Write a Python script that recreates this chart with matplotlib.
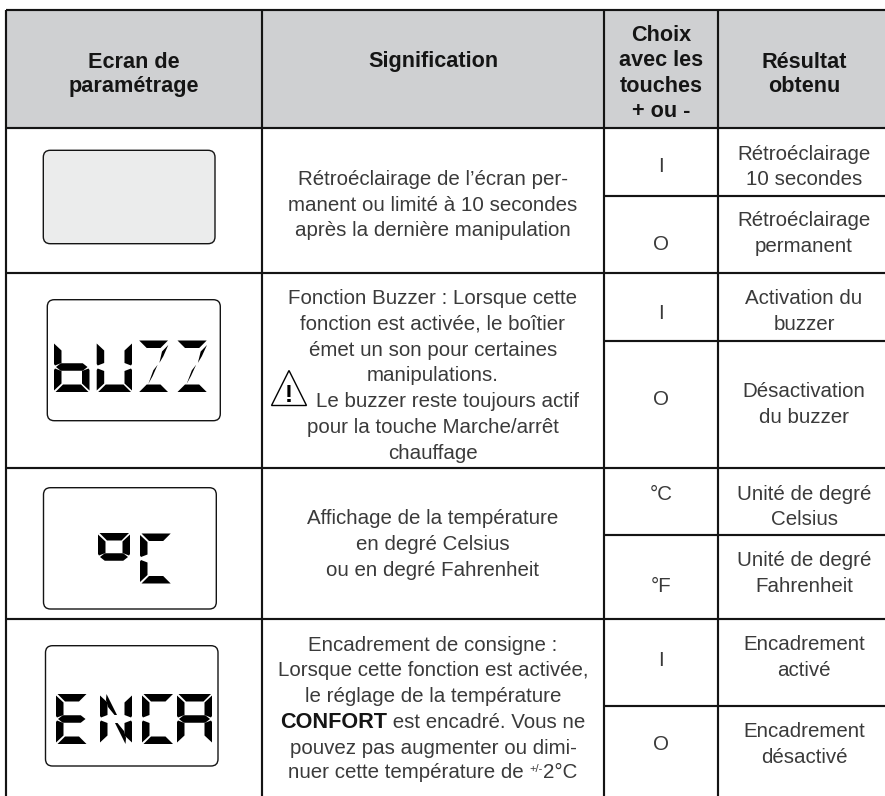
import matplotlib
matplotlib.use("Agg")
import matplotlib.pyplot as plt
from matplotlib.patches import Rectangle, FancyBboxPatch, Polygon

W, H = 885, 796
FONT = "Liberation Sans"
INK = "#3a3a3a"
LINE = "#141414"

# ---- table geometry -------------------------------------------------
col_edges = [6, 262, 604, 718]
row_edges = [9.5, 127.5, 272.5, 468, 619]
sub_rows = [195.5, 340.5, 535, 706]
header_fill = "#cfd0d2"

# ---- texts: (x, baseline, text) ------------------------------------
col2_x, col3_x, col4_x, col1_x = 433, 661, 804, 134

header_lines = [
    (col1_x, 67.5, "Ecran de"), (col1_x, 92, "paramétrage"),
    (col2_x, 67, "Signification"),
    (col3_x, 41, "Choix"), (col3_x, 66.5, "avec les"), (col3_x, 92, "touches"), (col3_x, 117, "+ ou -"),
    (col4_x, 67.5, "Résultat"), (col4_x, 92, "obtenu"),
]
meaning_lines = [
    (col2_x, 185, "Rétroéclairage de l’écran per-"),
    (col2_x, 211, "manent ou limité à 10 secondes"),
    (col2_x, 236.5, "après la dernière manipulation"),
    (col2_x, 304, "Fonction Buzzer : Lorsque cette"),
    (col2_x, 330, "fonction est activée, le boîtier"),
    (col2_x, 355.5, "émet un son pour certaines"),
    (col2_x, 381, "manipulations."),
    (448, 407, "Le buzzer reste toujours actif"),
    (col2_x, 433, "pour la touche Marche/arrêt"),
    (col2_x, 459, "chauffage"),
    (col2_x, 524.5, "Affichage de la température"),
    (col2_x, 550.5, "en degré Celsius"),
    (col2_x, 576.5, "ou en degré Fahrenheit"),
    (col2_x, 651, "Encadrement de consigne :"),
    (col2_x, 676.5, "Lorsque cette fonction est activée,"),
    (col2_x, 702, "le réglage de la température"),
    (col2_x, 753.5, "pouvez pas augmenter ou dimi-"),
]
choice_labels = [
    (col3_x, 172.5, "I"), (col3_x, 250, "O"),
    (col3_x, 319, "I"), (col3_x, 405, "O"),
    (col3_x, 499.5, "°C"), (col3_x, 592.5, "°F"),
    (col3_x, 665.5, "I"), (col3_x, 750, "O"),
]
result_lines = [
    (col4_x, 160.5, "Rétroéclairage"), (col4_x, 185, "10 secondes"),
    (col4_x, 226.5, "Rétroéclairage"), (col4_x, 251.5, "permanent"),
    (col4_x, 303.5, "Activation du"), (col4_x, 330, "buzzer"),
    (col4_x, 397, "Désactivation"), (col4_x, 423, "du buzzer"),
    (col4_x, 499.5, "Unité de degré"), (col4_x, 525, "Celsius"),
    (col4_x, 566.5, "Unité de degré"), (col4_x, 592.5, "Fahrenheit"),
    (col4_x, 650.5, "Encadrement"), (col4_x, 676.5, "activé"),
    (col4_x, 737, "Encadrement"), (col4_x, 763, "désactivé"),
]

# ---- LCD panels ------------------------------------------------------
panels = [
    (43.3, 150.3, 215, 243.7, "#ebecec"),
    (47.3, 299.7, 220.3, 420.7, "white"),
    (43.5, 487.7, 216.3, 609, "white"),
    (45.5, 645.7, 218, 766, "white"),
]
# glyph, x0, y0, x1, y1
lcd_glyphs = [
    ("b", 54, 342, 89.5, 392), ("U", 96.7, 342, 132, 392),
    ("Z", 137.7, 340.5, 169, 392), ("Z", 176, 340.5, 207.7, 392),
    ("o", 98, 533, 130, 581), ("C", 140, 533.5, 171.7, 583.5),
    ("E", 56, 694, 87.5, 744), ("N", 100, 694, 132, 744),
    ("C", 142, 694, 174, 744), ("A", 177, 694, 212, 744),
]
glyph_segments = {
    "b": "fegcd", "U": "fecbd", "Z": "adxy", "o": "abfg",
    "C": "afed", "E": "afegd", "N": "fecbhi", "A": "abcefg",
}


def segment(name, x0, y0, x1, y1, t=7.5):
    ym = (y0 + y1) / 2
    xc = (x0 + x1) / 2
    h = t / 2
    return {
        "a": [(x0 + 1.5, y0), (x1 - 1, y0), (x1 - 1 - t, y0 + t), (x0 + 1.5 + t, y0 + t)],
        "d": [(x0 + 1.5, y1), (x1 - 1, y1), (x1 - 1 - t, y1 - t), (x0 + 1.5 + t, y1 - t)],
        "f": [(x0, y0 + 1.5), (x0 + t, y0 + t + 1), (x0 + t, ym - 4), (x0 + 1, ym - 1.5), (x0, ym - 3)],
        "e": [(x0, y1 - 1.5), (x0 + t, y1 - t - 1), (x0 + t, ym + 4), (x0 + 1, ym + 1.5), (x0, ym + 3)],
        "b": [(x1, y0 + 1.5), (x1 - t, y0 + t + 1), (x1 - t, ym - 4), (x1 - 1, ym - 1.5), (x1, ym - 3)],
        "c": [(x1, y1 - 1.5), (x1 - t, y1 - t - 1), (x1 - t, ym + 4), (x1 - 1, ym + 1.5), (x1, ym + 3)],
        "g": [(x0 + 2, ym), (x0 + 3 + h, ym - h), (x1 - 3 - h, ym - h), (x1 - 2, ym),
              (x1 - 3 - h, ym + h), (x0 + 3 + h, ym + h)],
        "x": [(x1 - 0.7, y0 + 4.5), (x1 - 7, y0 + 11), (xc + 6, ym - 3.3), (xc + 10, ym - 10)],
        "y": [(xc + 4.3, ym - 1.5), (xc, ym + 4), (x0 + 10.6, y1 - 8), (x0 + 15, y1 - 16)],
        "h": [(x0 + 6.5, y0), (xc + 1, ym - 4), (xc - 1.5, ym - 4), (x0 + 8, y0 + 13), (x0 + 6, y0 + 6)],
        "i": [(x1 - 6.5, y1), (xc - 1, ym + 4), (xc + 1.5, ym + 4), (x1 - 8, y1 - 13), (x1 - 6, y1 - 6)],
    }[name]


fig = plt.figure(figsize=(W / 100, H / 100), dpi=100, facecolor="white")
ax = fig.add_axes([0, 0, 1, 1])
ax.set_xlim(0, W)
ax.set_ylim(H, 0)
ax.axis("off")
renderer = fig.canvas.get_renderer()

# header band
ax.add_patch(Rectangle((col_edges[0], row_edges[0]), W - col_edges[0], row_edges[1] - row_edges[0],
                       facecolor=header_fill, edgecolor="none", zorder=1))

LW = 1.55
for x in col_edges:
    ax.plot([x, x], [row_edges[0], H], color=LINE, lw=LW, solid_capstyle="butt", zorder=3)
for y in row_edges:
    ax.plot([col_edges[0], W], [y, y], color=LINE, lw=LW, solid_capstyle="butt", zorder=3)
for y in sub_rows:
    ax.plot([col_edges[2], W], [y, y], color=LINE, lw=LW, solid_capstyle="butt", zorder=3)

FS = 14.8
FS_BOLD = 15.6
for x, y, s in header_lines:
    ax.text(x, y, s, ha="center", va="baseline", family=FONT, weight="bold", fontsize=FS_BOLD, color="#151515", zorder=4)
for group in (meaning_lines, choice_labels, result_lines):
    for x, y, s in group:
        ax.text(x, y, s, ha="center", va="baseline", family=FONT, fontsize=FS, color=INK, zorder=4)


def runs(cx, y, parts):
    """Centre a line made of several styled runs on cx."""
    items = []
    total = 0
    for s, weight, size, dy in parts:
        t = ax.text(0, y + dy, s, ha="left", va="baseline", family=FONT, weight=weight,
                    fontsize=size, color=INK if weight == "normal" else "#151515", zorder=4)
        w = t.get_window_extent(renderer).width
        items.append((t, w))
        total += w
    x = cx - total / 2
    for t, w in items:
        t.set_x(x)
        x += w


runs(col2_x, 728, [("CONFORT", "bold", FS_BOLD, 0), (" est encadré. Vous ne", "normal", FS, 0)])
runs(col2_x, 778.5, [("nuer cette température de ", "normal", FS, 0), ("+/-", "normal", 8, -6),
                     ("2°C", "normal", FS, 0)])

# LCD panels
for x0, y0, x1, y1, fill in panels:
    ax.add_patch(FancyBboxPatch((x0, y0), x1 - x0, y1 - y0, boxstyle="round,pad=0,rounding_size=7",
                                facecolor=fill, edgecolor=LINE, lw=1.0, zorder=2))
for ch, x0, y0, x1, y1 in lcd_glyphs:
    for name in glyph_segments[ch]:
        ax.add_patch(Polygon(segment(name, x0, y0, x1, y1), closed=True, facecolor="black",
                             edgecolor="none", zorder=3))

# warning triangle
ax.add_patch(Polygon([(289, 370.5), (271.5, 405.5), (306.5, 405.5)], closed=True, facecolor="white",
                     edgecolor="black", lw=1.0, zorder=4))
ax.text(289, 402, "!", ha="center", va="baseline", family=FONT, weight="bold", fontsize=17.5,
        color="black", zorder=5)

fig.savefig("out.png", dpi=100, facecolor="white")
